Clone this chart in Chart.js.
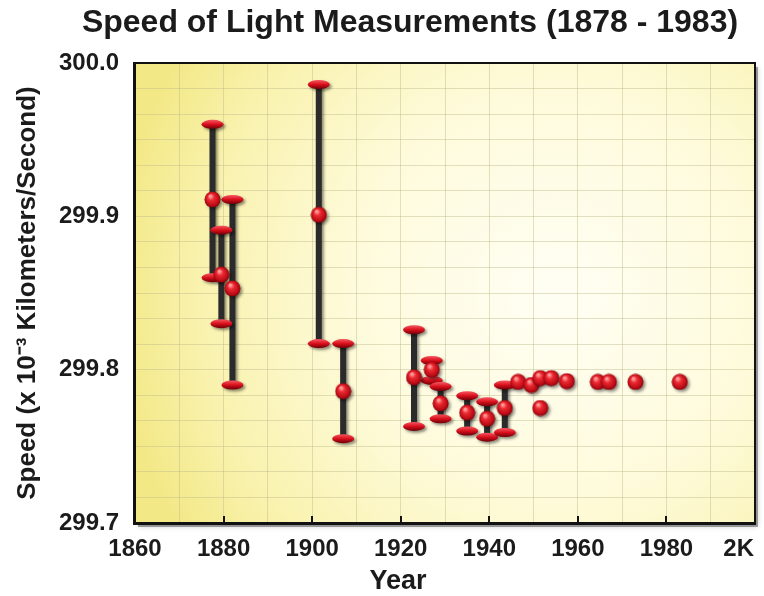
<!DOCTYPE html>
<html>
<head>
<meta charset="utf-8">
<title>Speed of Light Measurements</title>
<script src="https://cdn.jsdelivr.net/npm/chart.js@4.4.1/dist/chart.umd.min.js"></script>
<style>
  html, body { margin: 0; padding: 0; background: #fff; }
  #wrap { width: 764px; height: 596px; }
</style>
</head>
<body>
<div id="wrap"><canvas id="chart" width="764" height="596"></canvas></div>
<script>
var years  = [1877.5, 1879.5, 1882, 1901.5, 1907, 1923, 1927, 1929, 1935, 1939.5, 1943.5,
              1946.5, 1949.5, 1951.5, 1951.5, 1954, 1957.5, 1964.5, 1967, 1973, 1983];
var speeds = [299.911, 299.862, 299.853, 299.901, 299.786, 299.795, 299.800, 299.778, 299.772, 299.768, 299.775,
              299.792, 299.790, 299.7945, 299.775, 299.7945, 299.7925, 299.792, 299.792, 299.792, 299.792];
var lows   = [299.860, 299.830, 299.790, 299.817, 299.755, 299.763, 299.793, 299.768, 299.760, 299.756, 299.759,
              null, null, null, null, null, null, null, null, null, null];
var highs  = [299.960, 299.891, 299.911, 299.986, 299.817, 299.826, 299.806, 299.789, 299.783, 299.779, 299.790,
              null, null, null, null, null, null, null, null, null, null];

var xTickValues = [1860, 1880, 1900, 1920, 1940, 1960, 1980, 2000];
var xTickLabels = ['1860', '1880', '1900', '1920', '1940', '1960', '1980', '2K'];
var yTickValues = [299.7, 299.8, 299.9, 300.0];
var yTickLabels = ['299.7', '299.8', '299.9', '300.0'];

var chartTitle = 'Speed of Light Measurements (1878 - 1983)';
var xTitle = 'Year';
var yTitle = 'Speed (x 10\u207B\u00B3 Kilometers/Second)';

var FONT = "'Liberation Sans', Arial, sans-serif";
var TEXT = '#1b1b1b';

// red glossy ball used as the point style
function makeBall(size) {
  var c = document.createElement('canvas');
  c.width = size; c.height = size;
  var g = c.getContext('2d');
  var r = size / 2;
  var grad = g.createRadialGradient(r * 0.75, r * 0.6, 1, r, r, r);
  grad.addColorStop(0, '#ff9a9a');
  grad.addColorStop(0.3, '#ec2a32');
  grad.addColorStop(0.8, '#b80a14');
  grad.addColorStop(1, '#700008');
  g.fillStyle = grad;
  g.beginPath();
  g.arc(r, r, r - 0.5, 0, Math.PI * 2);
  g.fill();
  return c;
}
var ball = makeBall(17);

var points = years.map(function (y, i) { return { x: y, y: speeds[i] }; });

var plotBackground = {
  id: 'plotBackground',
  beforeDraw: function (chart) {
    var a = chart.chartArea, ctx = chart.ctx;
    var w = a.right - a.left, h = a.bottom - a.top;
    ctx.save();
    // frame shadow
    ctx.fillStyle = 'rgba(0,0,0,0.35)';
    ctx.shadowColor = 'rgba(0,0,0,0.5)';
    ctx.shadowBlur = 5;
    ctx.fillRect(a.left + 3, a.top + 4, w, h);
    ctx.shadowColor = 'transparent';
    // pale centre towards the right, yellow towards the edges
    var grad = ctx.createRadialGradient(a.left + w * 0.68, a.top + h * 0.5, 0,
                                        a.left + w * 0.68, a.top + h * 0.5, w * 0.72);
    grad.addColorStop(0, '#fffef4');
    grad.addColorStop(0.45, '#fefbdc');
    grad.addColorStop(0.8, '#f9f2ae');
    grad.addColorStop(1, '#f3e886');
    ctx.fillStyle = grad;
    ctx.fillRect(a.left, a.top, w, h);
    ctx.restore();
  },
  beforeDatasetsDraw: function (chart) {
    var a = chart.chartArea, ctx = chart.ctx;
    var xs = chart.scales.x;
    ctx.save();
    // frame
    ctx.strokeStyle = '#111';
    ctx.lineWidth = 2;
    ctx.strokeRect(a.left, a.top, a.right - a.left, a.bottom - a.top);
    ctx.fillStyle = '#111';
    ctx.fillRect(a.left - 2, a.top - 1, 3, a.bottom - a.top + 2);
    ctx.fillRect(a.left - 2, a.bottom - 1, a.right - a.left + 3, 3);
    // inner ticks at the labelled years
    for (var i = 1; i < xTickValues.length - 1; i++) {
      var px = Math.round(xs.getPixelForValue(xTickValues[i]));
      ctx.fillRect(px - 1, a.bottom - 7, 2, 7);
    }
    ctx.restore();
  }
};

var errorBars = {
  id: 'errorBars',
  beforeDatasetsDraw: function (chart) {
    var ctx = chart.ctx, xs = chart.scales.x, ys = chart.scales.y;
    ctx.save();
    ctx.shadowColor = 'rgba(0,0,0,0.45)';
    ctx.shadowOffsetX = 2;
    ctx.shadowOffsetY = 2;
    ctx.shadowBlur = 3;
    // vertical bars
    ctx.strokeStyle = '#2b2b2b';
    ctx.lineWidth = 6;
    for (var i = 0; i < years.length; i++) {
      if (lows[i] === null) continue;
      var px = xs.getPixelForValue(years[i]);
      ctx.beginPath();
      ctx.moveTo(px, ys.getPixelForValue(lows[i]));
      ctx.lineTo(px, ys.getPixelForValue(highs[i]));
      ctx.stroke();
    }
    // red caps
    for (var j = 0; j < years.length; j++) {
      if (lows[j] === null) continue;
      var cx = xs.getPixelForValue(years[j]);
      [lows[j], highs[j]].forEach(function (v) {
        var cy = ys.getPixelForValue(v);
        var g = ctx.createLinearGradient(0, cy - 4, 0, cy + 4);
        g.addColorStop(0, '#f4505a');
        g.addColorStop(0.5, '#d8101c');
        g.addColorStop(1, '#7a0008');
        ctx.fillStyle = g;
        ctx.beginPath();
        ctx.ellipse(cx, cy, 11, 4.5, 0, 0, Math.PI * 2);
        ctx.fill();
      });
    }
    ctx.restore();
  },
  beforeDatasetDraw: function (chart) {
    var ctx = chart.ctx;
    ctx.save();
    ctx.shadowColor = 'rgba(0,0,0,0.45)';
    ctx.shadowOffsetX = 2;
    ctx.shadowOffsetY = 2;
    ctx.shadowBlur = 3;
  },
  afterDatasetDraw: function (chart) { chart.ctx.restore(); }
};

// title, x tick labels and x axis title, placed as in the reference
var texts = {
  id: 'texts',
  afterDraw: function (chart) {
    var ctx = chart.ctx, xs = chart.scales.x, a = chart.chartArea;
    ctx.save();
    ctx.fillStyle = TEXT;
    ctx.textBaseline = 'middle';
    ctx.font = 'bold 24px ' + FONT;
    for (var i = 0; i < xTickValues.length; i++) {
      var px = xs.getPixelForValue(xTickValues[i]);
      if (i === xTickValues.length - 1) {
        ctx.textAlign = 'right';
        ctx.fillText(xTickLabels[i], a.right - 1, a.bottom + 26);
      } else {
        ctx.textAlign = 'center';
        ctx.fillText(xTickLabels[i], px, a.bottom + 26);
      }
    }
    ctx.textAlign = 'center';
    ctx.font = 'bold 27px ' + FONT;
    ctx.fillText(xTitle, 398, a.bottom + 59);
    ctx.font = 'bold 32px ' + FONT;
    ctx.fillText(chartTitle, 410, 23);
    ctx.restore();
  }
};

var gridColor = 'rgba(190,186,140,0.45)';

new Chart(document.getElementById('chart'), {
  type: 'scatter',
  data: {
    datasets: [{
      label: 'Speed',
      data: points,
      pointStyle: ball,
      pointRadius: 8,
      pointHoverRadius: 8,
    }],
  },
  options: {
    responsive: false,
    animation: false,
    devicePixelRatio: 1,
    layout: { padding: { left: 0, right: 6, top: 63, bottom: 0 } },
    plugins: {
      legend: { display: false },
      tooltip: { enabled: false },
      title: { display: false },
    },
    scales: {
      x: {
        type: 'linear',
        min: 1860, max: 2000,
        ticks: { display: false, stepSize: 10 },
        grid: { color: gridColor, lineWidth: 1, drawTicks: false },
        border: { display: false },
        afterFit: function (scale) { scale.height = 73; },
      },
      y: {
        type: 'linear',
        min: 299.7, max: 300.0,
        afterBuildTicks: function (scale) {
          var t = [];
          for (var i = 0; i <= 18; i++) t.push({ value: 299.7 + i * (0.3 / 18) });
          scale.ticks = t;
        },
        ticks: {
          autoSkip: false,
          padding: 16,
          color: TEXT,
          font: { family: FONT, size: 24, weight: 'bold' },
          callback: function (v) {
            for (var k = 0; k < yTickValues.length; k++) {
              if (Math.abs(v - yTickValues[k]) < 1e-6) return yTickLabels[k];
            }
            return '';
          },
        },
        grid: { color: gridColor, lineWidth: 1, drawTicks: false },
        border: { display: false },
        title: {
          display: true, text: yTitle, color: TEXT,
          font: { family: FONT, size: 26, weight: 'bold' },
          padding: { top: 12, bottom: 0 },
        },
        afterFit: function (scale) { scale.width = 135; },
      },
    },
  },
  plugins: [plotBackground, errorBars, texts],
});
</script>
</body>
</html>
